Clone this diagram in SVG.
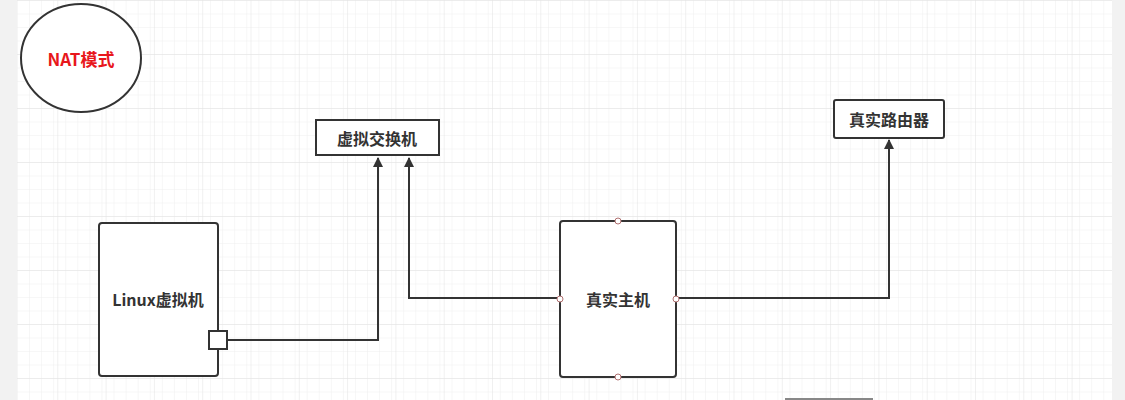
<svg xmlns="http://www.w3.org/2000/svg" width="1125" height="400" viewBox="0 0 1125 400">
<defs>
<pattern id="minor" x="17" y="0" width="12.07" height="13.5" patternUnits="userSpaceOnUse"><path d="M0 0V13.5M0 0H12.07" fill="none" stroke="#efefef" stroke-width="1"/></pattern>
<pattern id="major" x="9" y="0" width="48.3" height="54" patternUnits="userSpaceOnUse"><path d="M0 0V54M0 0H48.3" fill="none" stroke="#e2e2e2" stroke-width="1"/></pattern>
<marker id="arr" viewBox="0 0 10 10" refX="9" refY="5" markerWidth="12" markerHeight="10" markerUnits="userSpaceOnUse" orient="auto"><path d="M0 0L10 5L0 10Z" fill="#333"/></marker>
</defs>
<style>
.box{fill:#fff;stroke:#333;stroke-width:2}
.lbl{font-family:"Noto Sans CJK SC","Liberation Sans",sans-serif;font-weight:bold;font-size:16px;fill:#333;text-anchor:middle;dominant-baseline:central}
.con{fill:none;stroke:#333;stroke-width:2}
.pt{fill:#fff;stroke:#b07070;stroke-width:1}
</style>
<rect width="1125" height="400" fill="#f2f2f2"/>
<rect x="17" y="0" width="1095" height="400" fill="#fff"/>
<rect x="17" y="0" width="1095" height="400" fill="url(#minor)"/>
<rect x="17" y="0" width="1095" height="400" fill="url(#major)"/>
<line x1="785" y1="399" x2="873" y2="399" stroke="#888" stroke-width="2"/>
<g id="connectors">
<path class="con" d="M227 340H378V158" marker-end="url(#arr)"/>
<path class="con" d="M560 298H409V158" marker-end="url(#arr)"/>
<path class="con" d="M676 298H889V140" marker-end="url(#arr)"/>
</g>
<g id="nat"><ellipse class="box" cx="81" cy="58" rx="60" ry="54"/><text class="lbl" x="81" y="58" style="fill:#e8171c;font-size:17px">NAT模式</text></g>
<g id="switch"><rect class="box" x="316" y="120" width="123" height="35"/><text class="lbl" x="377" y="138">虚拟交换机</text></g>
<g id="router"><rect class="box" x="834" y="100" width="110" height="38" rx="2"/><text class="lbl" x="889" y="119">真实路由器</text></g>
<g id="linux"><rect class="box" x="99" y="223" width="119" height="153" rx="3"/><text class="lbl" x="158" y="299">Linux虚拟机</text><rect class="box" x="209" y="331" width="18" height="18"/></g>
<g id="host"><rect class="box" x="560" y="221" width="116" height="156" rx="3"/><text class="lbl" x="618" y="299">真实主机</text>
<circle class="pt" cx="618" cy="221" r="3"/><circle class="pt" cx="618" cy="377" r="3"/><circle class="pt" cx="560" cy="299" r="3"/><circle class="pt" cx="676" cy="299" r="3"/></g>
</svg>
